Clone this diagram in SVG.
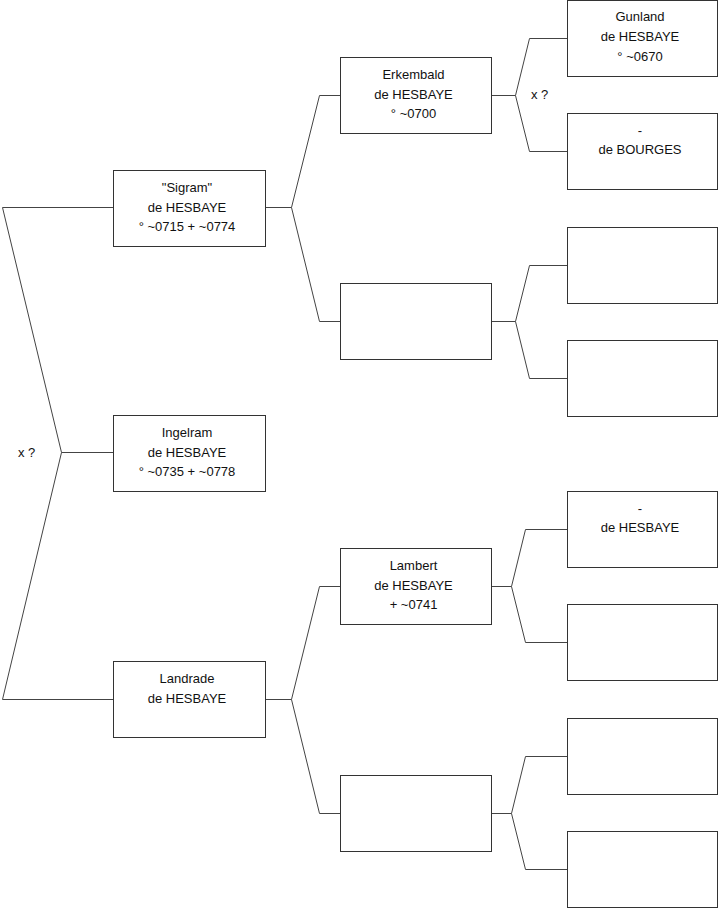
<svg xmlns="http://www.w3.org/2000/svg" width="719" height="908" viewBox="0 0 719 908">
<style>
rect{fill:#fff;stroke:#333;stroke-width:1}
.c path{fill:none;stroke:#444;stroke-width:1}
text{font-family:"Liberation Sans",Arial,sans-serif;font-size:13px;fill:#111;text-anchor:middle}
.l{text-anchor:start}
</style>
<rect x="0" y="0" width="719" height="908" style="stroke:none"/>
<g class="c" id="connectors">
<path d="M113.5,207.5H2.5L61.5,452.5L2.5,699.5H113.5M61.5,452.5H113.5"/>
<path d="M265.5,207.5H291.5L319.5,95.5H340.5M291.5,207.5L319.5,321.5H340.5"/>
<path d="M265.5,699.5H291.5L319.5,586.5H340.5M291.5,699.5L319.5,813.5H340.5"/>
<path d="M491.5,95.5H515.5L529.5,38.5H567.5M515.5,95.5L529.5,151.5H567.5"/>
<path d="M491.5,321.5H515.5L529.5,265.5H567.5M515.5,321.5L529.5,378.5H567.5"/>
<path d="M491.5,586.5H511.5L525.5,529.5H567.5M511.5,586.5L525.5,642.5H567.5"/>
<path d="M491.5,813.5H511.5L525.5,756.5H567.5M511.5,813.5L525.5,869.5H567.5"/>
</g>
<text class="l" x="18" y="457">x ?</text>
<text class="l" x="531" y="99">x ?</text>
<g id="sigram"><rect x="113.5" y="170.5" width="152" height="76"/><text x="187" y="192">"Sigram"</text><text x="187" y="211.5">de HESBAYE</text><text x="187" y="231">° ~0715 + ~0774</text></g>
<g id="ingelram"><rect x="113.5" y="415.5" width="152" height="76"/><text x="187" y="437">Ingelram</text><text x="187" y="456.5">de HESBAYE</text><text x="187" y="476">° ~0735 + ~0778</text></g>
<g id="landrade"><rect x="113.5" y="661.5" width="152" height="76"/><text x="187" y="683">Landrade</text><text x="187" y="702.5">de HESBAYE</text></g>
<g id="erkembald"><rect x="340.5" y="57.5" width="151" height="76"/><text x="413.5" y="79">Erkembald</text><text x="413.5" y="98.5">de HESBAYE</text><text x="413.5" y="118">° ~0700</text></g>
<g id="empty2a"><rect x="340.5" y="283.5" width="151" height="76"/></g>
<g id="lambert"><rect x="340.5" y="548.5" width="151" height="76"/><text x="413.5" y="570">Lambert</text><text x="413.5" y="589.5">de HESBAYE</text><text x="413.5" y="609">+ ~0741</text></g>
<g id="empty2b"><rect x="340.5" y="775.5" width="151" height="76"/></g>
<g id="gunland"><rect x="567.5" y="0.5" width="150" height="76"/><text x="640" y="21">Gunland</text><text x="640" y="41">de HESBAYE</text><text x="640" y="60.5">° ~0670</text></g>
<g id="bourges"><rect x="567.5" y="113.5" width="150" height="76"/><text x="640" y="134.5">-</text><text x="640" y="153.5">de BOURGES</text></g>
<g id="empty3a"><rect x="567.5" y="227.5" width="150" height="76"/></g>
<g id="empty3b"><rect x="567.5" y="340.5" width="150" height="76"/></g>
<g id="hesbaye3"><rect x="567.5" y="491.5" width="150" height="76"/><text x="640" y="512.5">-</text><text x="640" y="532">de HESBAYE</text></g>
<g id="empty3c"><rect x="567.5" y="604.5" width="150" height="76"/></g>
<g id="empty3d"><rect x="567.5" y="718.5" width="150" height="76"/></g>
<g id="empty3e"><rect x="567.5" y="831.5" width="150" height="76"/></g>
</svg>
